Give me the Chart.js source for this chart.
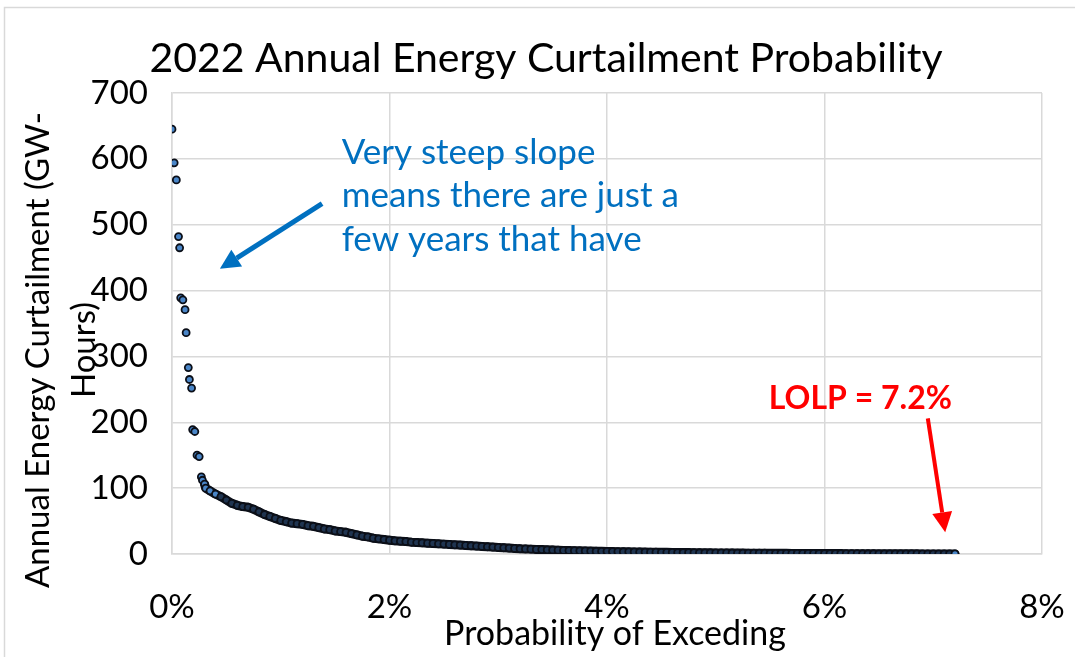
<!DOCTYPE html>
<html>
<head>
<meta charset="utf-8">
<script src="https://cdn.jsdelivr.net/npm/chart.js@4/dist/chart.umd.min.js"></script>
<style>
  html, body { margin: 0; padding: 0; background: #fff; }
  #wrap { width: 1075px; height: 657px; position: relative; }
</style>
</head>
<body>
<div id="wrap"><canvas id="chartCurtail" width="1075" height="657"></canvas></div>
<script>
const chartTitle = '2022 Annual Energy Curtailment Probability';
const xTitle = 'Probability of Exceding';
const yTitleLines = ['Annual Energy Curtailment (GW-', 'Hours)'];
const noteLines = ['Very steep slope', 'means there are just a', 'few years that have'];
const lolpText = 'LOLP = 7.2%';

const yTicks = [0, 100, 200, 300, 400, 500, 600, 700];
const xTicks = [0, 2, 4, 6, 8];

// probability of exceeding (%)
const probExceed = [
  0.00, 0.02, 0.04, 0.06, 0.07, 0.08, 0.10, 0.12, 0.13, 0.15, 0.16, 0.18, 0.19, 0.21, 0.23, 0.25, 0.27, 0.28, 0.30, 0.31,
  0.35, 0.40, 0.45, 0.50, 0.55, 0.60, 0.65, 0.70, 0.75, 0.80, 0.85, 0.90, 0.95, 1.00,
  1.05, 1.10, 1.15, 1.20, 1.25, 1.30, 1.35, 1.40, 1.45, 1.50, 1.55, 1.60, 1.65, 1.70, 1.75, 1.80, 1.85, 1.90, 1.95, 2.00,
  2.05, 2.10, 2.15, 2.20, 2.25, 2.30, 2.35, 2.40, 2.45, 2.50, 2.55, 2.60, 2.65, 2.70, 2.75, 2.80, 2.85, 2.90, 2.95, 3.00,
  3.05, 3.10, 3.15, 3.20, 3.25, 3.30, 3.35, 3.40, 3.45, 3.50, 3.55, 3.60, 3.65, 3.70, 3.75, 3.80, 3.85, 3.90, 3.95, 4.00,
  4.05, 4.10, 4.15, 4.20, 4.25, 4.30, 4.35, 4.40, 4.45, 4.50, 4.55, 4.60, 4.65, 4.70, 4.75, 4.80, 4.85, 4.90, 4.95, 5.00,
  5.05, 5.10, 5.15, 5.20, 5.25, 5.30, 5.35, 5.40, 5.45, 5.50, 5.55, 5.60, 5.65, 5.70, 5.75, 5.80, 5.85, 5.90, 5.95, 6.00,
  6.05, 6.10, 6.15, 6.20, 6.25, 6.30, 6.35, 6.40, 6.45, 6.50, 6.55, 6.60, 6.65, 6.70, 6.75, 6.80, 6.85, 6.90, 6.95, 7.00,
  7.05, 7.10, 7.15, 7.20
];

// annual energy curtailment (GW-hours)
const curtailment = [
  645, 594, 568, 482, 465, 389, 386, 371, 336, 283, 265, 252, 189, 186, 150, 148, 117, 112, 106, 100,
  96, 91, 87, 82, 77, 74, 72, 71, 68, 64, 60, 57, 54, 51,
  49, 47, 46, 45, 43, 42, 40, 38, 37, 35, 34, 33, 31, 29, 27, 26, 24, 23, 22, 21,
  20, 19.5, 19, 18, 17.5, 17, 16.5, 16, 15.5, 15, 14.5, 14, 13.5, 13, 12.5, 12, 11.5, 11, 10.5, 10,
  9.5, 9, 8.5, 8, 7.7, 7.4, 7, 6.7, 6.4, 6.1, 5.8, 5.5, 5.3, 5.0, 4.8, 4.6, 4.4, 4.2, 4.0, 3.9,
  3.7, 3.6, 3.4, 3.3, 3.1, 3.0, 2.9, 2.8, 2.7, 2.6, 2.5, 2.4, 2.3, 2.2, 2.1, 2.0, 1.9, 1.8, 1.8, 1.7,
  1.6, 1.6, 1.5, 1.4, 1.4, 1.3, 1.3, 1.2, 1.2, 1.1, 1.1, 1.0, 1.0, 0.9, 0.9, 0.8, 0.8, 0.8, 0.7, 0.7,
  0.6, 0.6, 0.6, 0.5, 0.5, 0.5, 0.4, 0.4, 0.4, 0.3, 0.3, 0.3, 0.3, 0.2, 0.2, 0.2, 0.2, 0.1, 0.1, 0.1,
  0.1, 0.1, 0.1, 0.1
];

// first index where the markers pile up into one dark band
const denseStart = 18;

const points = probExceed.map((p, i) => ({ x: p, y: curtailment[i] }));
const densePoints = points.slice(denseStart);

function drawArrow(ctx, x1, y1, x2, y2, color, width, head) {
    const ang = Math.atan2(y2 - y1, x2 - x1);
    const bx = x2 - head * Math.cos(ang);
    const by = y2 - head * Math.sin(ang);
    ctx.save();
    ctx.strokeStyle = color;
    ctx.fillStyle = color;
    ctx.lineWidth = width;
    ctx.beginPath();
    ctx.moveTo(x1, y1);
    ctx.lineTo(bx, by);
    ctx.stroke();
    ctx.beginPath();
    ctx.moveTo(x2, y2);
    ctx.lineTo(bx + head * 0.5 * Math.sin(ang), by - head * 0.5 * Math.cos(ang));
    ctx.lineTo(bx - head * 0.5 * Math.sin(ang), by + head * 0.5 * Math.cos(ang));
    ctx.closePath();
    ctx.fill();
    ctx.restore();
}

// texts, frame and arrows
const decorPlugin = {
    id: 'decor',
    beforeDraw(chart) {
        const ctx = chart.ctx;
        ctx.save();
        ctx.strokeStyle = '#d9d9d9';
        ctx.lineWidth = 1.5;
        ctx.beginPath();
        ctx.moveTo(4.5, 660);
        ctx.lineTo(4.5, 7.5);
        ctx.lineTo(1080, 7.5);
        ctx.stroke();
        ctx.restore();
    },
    afterDraw(chart) {
        const ctx = chart.ctx;
        const xs = chart.scales.x;
        const ys = chart.scales.y;
        ctx.save();
        ctx.fillStyle = '#000';
        ctx.textAlign = 'center';
        ctx.textBaseline = 'middle';
        ctx.font = '41px Lato';
        ctx.fillText(chartTitle, 546, 59);

        ctx.font = '34px Lato';
        ctx.fillText(xTitle, 615, 634);

        ctx.save();
        ctx.translate(38, 350);
        ctx.rotate(-Math.PI / 2);
        ctx.font = '33px Lato';
        ctx.fillText(yTitleLines[0], 0, 0);
        ctx.fillText(yTitleLines[1], 0, 46);
        ctx.restore();

        // blue note
        ctx.fillStyle = '#0070C0';
        ctx.textAlign = 'left';
        ctx.font = '35px Lato';
        const noteX = xs.getPixelForValue(1.56);
        ctx.fillText(noteLines[0], noteX, ys.getPixelForValue(609));
        ctx.fillText(noteLines[1], noteX, ys.getPixelForValue(544));
        ctx.fillText(noteLines[2], noteX, ys.getPixelForValue(477));
        drawArrow(ctx, xs.getPixelForValue(1.38), ys.getPixelForValue(532),
            xs.getPixelForValue(0.44), ys.getPixelForValue(433), '#0070C0', 5, 20);

        // red LOLP label
        ctx.fillStyle = '#FF0000';
        ctx.textAlign = 'center';
        ctx.font = 'bold 32px Lato';
        ctx.fillText(lolpText, xs.getPixelForValue(6.33), ys.getPixelForValue(236));
        drawArrow(ctx, xs.getPixelForValue(6.95), ys.getPixelForValue(206),
            xs.getPixelForValue(7.11), ys.getPixelForValue(33), '#FF0000', 4, 20);
        ctx.restore();
    }
};

const ctx = document.getElementById('chartCurtail');
new Chart(ctx.getContext('2d'), {
    type: 'scatter',
    data: {
        datasets: [
            {
                data: points,
                pointRadius: 3.5,
                pointBorderWidth: 1.8,
                pointBackgroundColor: (c) => (c.dataIndex < denseStart + 4 || c.dataIndex === points.length - 1) ? '#4a86c8' : '#1f3450',
                pointBorderColor: '#0b0f18',
                pointHoverRadius: 3.5,
                order: 1
            },
            {
                // overlapping markers read as a solid band in the tail
                data: densePoints,
                showLine: true,
                borderColor: '#0b0f18',
                borderWidth: 9,
                borderCapStyle: 'round',
                borderJoinStyle: 'round',
                pointRadius: 0,
                order: 2
            }
        ]
    },
    options: {
        responsive: false,
        animation: false,
        events: [],
        layout: { padding: { top: 93, right: 33, left: 0, bottom: 0 } },
        plugins: {
            legend: { display: false },
            tooltip: { enabled: false }
        },
        scales: {
            x: {
                type: 'linear',
                min: 0,
                max: 8,
                afterBuildTicks: (scale) => { scale.ticks = xTicks.map(v => ({ value: v })); },
                afterFit: (scale) => {
                    scale.height = 103;
                    scale.paddingLeft = 0;
                    scale.paddingRight = 0;
                },
                ticks: {
                    callback: (v) => v + '%',
                    color: '#000',
                    padding: 34,
                    maxRotation: 0,
                    font: { family: 'Lato', size: 33 }
                },
                grid: { color: '#d9d9d9', lineWidth: 1.5, drawTicks: false },
                border: { color: '#d9d9d9', width: 1.5 }
            },
            y: {
                min: 0,
                max: 700,
                afterBuildTicks: (scale) => { scale.ticks = yTicks.map(v => ({ value: v })); },
                afterFit: (scale) => {
                    scale.width = 172;
                    scale.paddingTop = 0;
                    scale.paddingBottom = 0;
                },
                ticks: {
                    color: '#000',
                    padding: 24,
                    font: { family: 'Lato', size: 33 }
                },
                grid: { color: '#d9d9d9', lineWidth: 1.5, drawTicks: false },
                border: { color: '#d9d9d9', width: 1.5 }
            }
        }
    },
    plugins: [decorPlugin]
});
</script>
</body>
</html>
